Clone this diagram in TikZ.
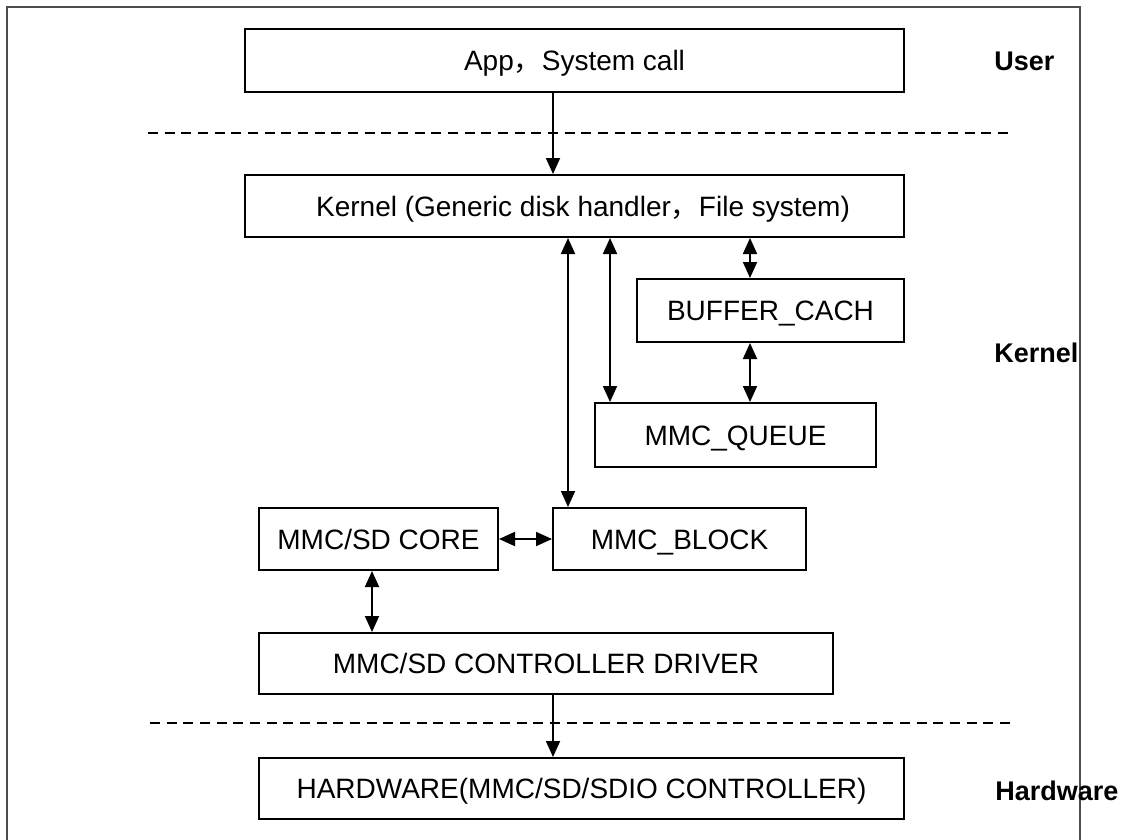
\documentclass[tikz,border=0pt]{standalone}
\usepackage{fontspec}
\setmainfont{Liberation Sans}
\newfontfamily\cjk{Noto Sans CJK SC}
\usetikzlibrary{arrows.meta}
\newlength\pxu
\setlength\pxu{0.75pt}
\begin{document}
\begin{tikzpicture}[x=0.75pt,y=-0.75pt,
  txt/.style={font=\fontsize{21}{25}\selectfont, text height=15pt, text depth=0pt},
  box/.style={draw, line width=1.5pt, inner sep=0pt, txt},
  lbl/.style={font=\fontsize{20.25}{24}\selectfont\bfseries, anchor=base west, inner sep=0pt},
  tip/.style={},
  arr/.style={line width=1.4pt, -{Triangle[length=12pt,width=10.5pt]}},
  darr/.style={line width=1.4pt, {Triangle[length=12pt,width=10.5pt]}-{Triangle[length=12pt,width=10.5pt]}},
  sep/.style={line width=1pt, dash pattern=on 7.5pt off 5pt},
  frame/.style={line width=1pt, draw=black!70}]
\useasboundingbox (0,0) rectangle (1126,839);
\draw[frame] (7,845) -- (7,7) -- (1080,7) -- (1080,845);

% nodes
\node[box, minimum width=659\pxu, minimum height=63\pxu] (app) at (574.5,60.5) {App{\cjk ，}System call};
\node[box, minimum width=659\pxu, minimum height=62\pxu] (kern) at (574.5,206) {};
\node[txt, inner sep=0pt] (kerntxt) at (583,206) {Kernel (Generic disk handler{\cjk ，}File system)};
\node[box, minimum width=267\pxu, minimum height=63\pxu] (buf) at (770.5,310.5) {BUFFER\_CACH};
\node[box, minimum width=281\pxu, minimum height=64\pxu] (queue) at (735.5,435) {MMC\_QUEUE};
\node[box, minimum width=239\pxu, minimum height=62\pxu] (core) at (378.5,539) {MMC/SD CORE};
\node[box, minimum width=253\pxu, minimum height=62\pxu] (block) at (679.5,539) {MMC\_BLOCK};
\node[box, minimum width=574\pxu, minimum height=61\pxu] (ctrl) at (546,663.5) {MMC/SD CONTROLLER DRIVER};
\node[box, minimum width=645\pxu, minimum height=61\pxu] (hw) at (581.5,788.5) {HARDWARE(MMC/SD/SDIO CONTROLLER)};

% layer labels
\node[lbl] (luser) at (994,70) {User};
\node[lbl] (lkern) at (994,362) {Kernel};
\node[lbl] (lhw) at (995,800) {Hardware};

% separators
\coordinate (s1a) at (148,133);
\coordinate (s1b) at (1010,133);
\coordinate (s2a) at (150,723);
\coordinate (s2b) at (1012,723);
\draw[sep] (s1a) -- (s1b);
\draw[sep] (s2a) -- (s2b);

% connector x positions
\coordinate (xa) at (553,0);
\coordinate (xb) at (568,0);
\coordinate (xc) at (610,0);
\coordinate (xd) at (750,0);
\coordinate (xe) at (372,0);

\draw[arr] (app.south -| xa) -- (kern.north -| xa);
\draw[darr] (kern.south -| xb) -- (block.north -| xb);
\draw[darr] (kern.south -| xc) -- (queue.north -| xc);
\draw[darr] (kern.south -| xd) -- (buf.north -| xd);
\draw[darr] (buf.south -| xd) -- (queue.north -| xd);
\draw[darr] (core.east) -- (block.west);
\draw[darr] (core.south -| xe) -- (ctrl.north -| xe);
\draw[arr] (ctrl.south -| xa) -- (hw.north -| xa);
\end{tikzpicture}
\end{document}
